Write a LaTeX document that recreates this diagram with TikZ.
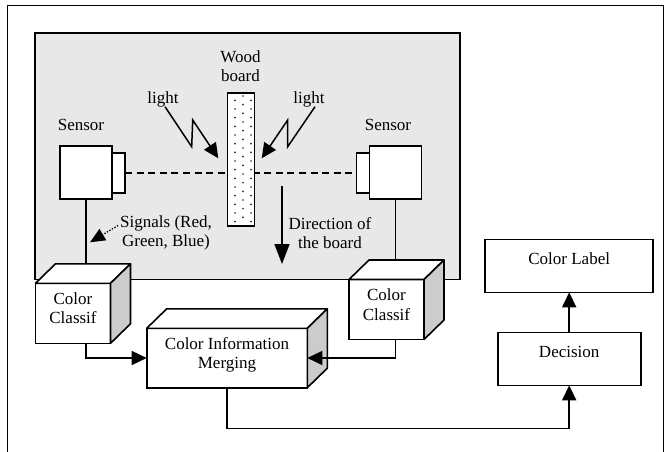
\documentclass[tikz,border=0pt]{standalone}
\usepackage{fontspec}
\setmainfont{Liberation Serif}
\usetikzlibrary{arrows.meta,positioning}

\newcommand{\cubefaces}[1]{%
  \draw[faces, fill=white] (#1.north west) -- ++(20,-19.5)
    -- ([shift={(20,-19.5)}]#1.north east) -- (#1.north east) -- cycle;
  \draw[faces, fill=black!20] (#1.north east) -- ++(20,-19.5)
    -- ([shift={(20,-19.5)}]#1.south east) -- (#1.south east) -- cycle;
}

\begin{document}
\begin{tikzpicture}[
    x=1pt, y=-1pt,
    node distance=40pt,
    every node/.style={font=\fontsize{17}{19.5}\selectfont},
    unit/.style={draw, line width=1.6pt, fill=white, inner sep=0pt, outer sep=0pt},
    camera/.style={unit, minimum width=52pt, minimum height=53pt},
    lens/.style={unit, minimum width=13pt, minimum height=40pt},
    plank/.style={unit, minimum width=27pt, minimum height=133pt},
    cube/.style={unit, align=center, minimum width=75pt, minimum height=60pt, text depth=10pt},
    block/.style={unit, minimum height=53pt, text height=25pt, text depth=28pt},
    tag/.style={inner sep=0pt, align=center},
    faces/.style={line width=1.6pt, line join=round},
    wire/.style={line width=1.2pt},
    flow/.style={line width=1.5pt, -{Triangle[length=15pt, width=14pt]}},
    beam/.style={line width=1.6pt, dash pattern=on 7pt off 4.6pt}
]
\useasboundingbox (0,0) rectangle (665,451);
\draw[line width=1.4pt] (7.5,452) -- (7.5,5.5) -- (663.5,5.5) -- (663.5,452);
\draw[line width=1.6pt, fill=black!9] (34.8,32.7) rectangle (460,279.3);

% sensors and the board between them
\node[camera] (sensL) at (86,172.7) {};
\node[lens, right=0pt of sensL] (lensL) {};
\node[camera] (sensR) at (395.5,172.7) {};
\node[lens, left=0pt of sensR] (lensR) {};
\draw[beam] (lensL) -- (lensR);
\node[plank] (board) at (240.8,159.3) {};
\foreach \k in {0,...,14} {
  \fill[black!85] (243,{96+8.67*\k}) circle (0.95pt);
  \fill[black!85] (235,{100.3+8.67*\k}) circle (0.95pt);
  \fill[black!85] (251,{100.3+8.67*\k}) circle (0.95pt);
}

\node[tag] (woodtag) at (240.5,66.3) {Wood\\board};
\node[tag] (lightL) at (163,99.5) {light};
\node[tag] (lightR) at (309,99.5) {light};
\node[tag] (sensLtag) at (81,125) {Sensor};
\node[tag] (sensRtag) at (388,125) {Sensor};
\node[tag] (sigtag) at (166,233) {Signals (Red,\\Green, Blue)};
\node[tag] (dirtag) at (330,233) {Direction of\\the board};

% light rays
\coordinate (boltL) at (165,106.7);
\coordinate (boltR) at (315,106.7);
\draw[flow] (boltL) -- ++(26.7,40) -- ++(1,-26.7) -- ++(25.6,38.3);
\draw[flow] (boltR) -- ++(-27.3,40) -- ++(0,-26.7) -- ++(-26,38.3);

\coordinate (dirtop) at (282,186);
\draw[flow, -{Triangle[length=20pt, width=15pt]}] (dirtop) -- ++(0,78);

\coordinate (sigstart) at (118,225.5);
\coordinate (sigtip) at (90,242.3);
\draw[line width=1.3pt, dash pattern=on 1.3pt off 1.6pt, -{Triangle[length=15pt, width=13pt]}] (sigstart) -- (sigtip);

% classifiers and merging
\node[cube] (clsL) at (73,313.3) {Color\\Classif};
\cubefaces{clsL}
\node[cube] (clsR) at (386.5,309.5) {Color\\Classif};
\cubefaces{clsR}
\node[cube, minimum width=160.6pt, minimum height=59.4pt] (merge) at (227,358) {Color Information\\Merging};
\cubefaces{merge}

\node[block, minimum width=143pt] (decision) at (569.2,358.8) {Decision};
\node[block, minimum width=168pt, above=of decision] (colorlabel) {Color Label};

\draw[wire] (sensL.south) -- ([yshift=19.5pt]sensL.south |- clsL.north);
\draw[wire] (sensR.south) -- ([yshift=19.5pt]sensR.south |- clsR.north);
\draw[flow] (sensL.south |- clsL.south) |- (merge.west);
\draw[flow] (sensR.south |- clsR.south) |- (merge.east);
\draw[flow] (merge.south) -- ++(0,40.6) -| (decision.south);
\draw[flow] (decision) -- (colorlabel);
\end{tikzpicture}
\end{document}
